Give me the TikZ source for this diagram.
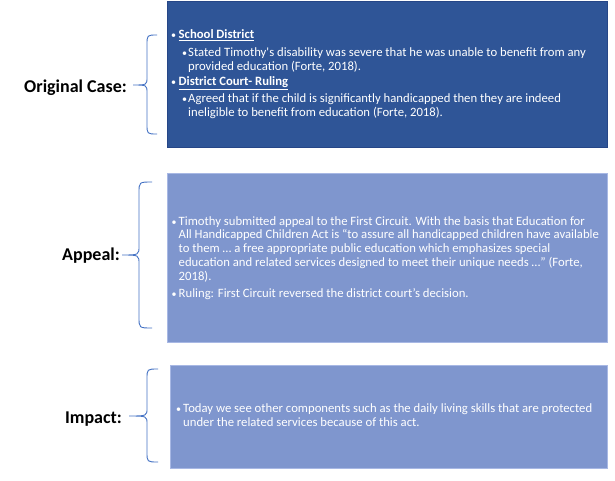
\documentclass[tikz,border=0pt]{standalone}
\usepackage{fontspec}
\setmainfont{Carlito}
\definecolor{darkbox}{RGB}{47,85,151}
\definecolor{darkedge}{RGB}{38,70,135}
\definecolor{lightbox}{RGB}{127,150,206}
\definecolor{lightedge}{RGB}{168,184,228}
\definecolor{bracecol}{RGB}{68,114,196}
\tikzset{
  body/.style={anchor=base west, inner sep=0pt, text=white, font=\fontsize{12.7}{14}\selectfont},
  headtxt/.style={body, font=\fontsize{12.7}{14}\selectfont\bfseries},
  bul/.style={anchor=base west, inner sep=0pt, text=white, font=\fontsize{10}{11}\selectfont},
  lbl/.style={anchor=base east, inner sep=0pt, text=black, font=\fontsize{18}{22}\selectfont\bfseries},
  bracepath/.style={draw=bracecol, line width=0.9pt},
  darkpanel/.style={fill=darkbox, draw=darkedge, line width=0.8pt},
  lightpanel/.style={fill=lightbox, draw=lightedge, line width=0.8pt}
}
\begin{document}
\begin{tikzpicture}[x=1pt,y=-1pt]
\useasboundingbox (0,0) rectangle (615,480);
\fill[white] (0,0) rectangle (615,480);
% panels
\path[darkpanel] (167,1) rectangle (607,147);
\path[lightpanel] (167,173) rectangle (607,342);
\path[lightpanel] (170,365) rectangle (607,468);
% labels
\node[lbl] (lorig) at (127,92) {Original Case:};
\node[lbl] (lappeal) at (120,260) {Appeal:};
\node[lbl] (limpact) at (122,423) {Impact:};
% braces
\path[bracepath] (157,35) .. controls (147,35) .. (147,45) -- (147,77) .. controls (147,85) .. (133,85)
  .. controls (147,85) .. (147,93) -- (147,124) .. controls (147,134) .. (157,134);
\path[bracepath] (152,182) .. controls (139,182) .. (139,193) -- (139,246) .. controls (139,255) .. (122,255)
  .. controls (139,255) .. (139,264) -- (139,317) .. controls (139,328) .. (152,328);
\path[bracepath] (158,369) .. controls (147,369) .. (147,379) -- (147,408) .. controls (147,416) .. (129,416)
  .. controls (147,416) .. (147,424) -- (147,452) .. controls (147,462) .. (158,462);
% box 1 text
\node[bul] (b1) at (171,38.5) {\textbullet};
\node[headtxt] (h1) at (178.5,38.5) {\underline{School District}};
\node[bul] (b1a) at (182,56.5) {\textbullet};
\node[body] (t1a) at (188,56.5) {Stated Timothy\textquotesingle s disability was severe that he was unable to benefit from any};
\node[body] (t1b) at (188,70.5) {provided education (Forte, 2018).};
\node[bul] (b2) at (171,85.5) {\textbullet};
\node[headtxt] (h2) at (178.5,85.5) {\underline{District Court- Ruling}};
\node[bul] (b2a) at (182,102.5) {\textbullet};
\node[body] (t2a) at (188,102.5) {Agreed that if the child is significantly handicapped then they are indeed};
\node[body] (t2b) at (188,116.5) {ineligible to benefit from education (Forte, 2018).};
% box 2 text
\node[bul] (b3) at (171.5,225) {\textbullet};
\node[body] (t3a) at (178.5,225) {Timothy submitted appeal to the First Circuit. With the basis that Education for};
\node[body] (t3b) at (178.5,238.5) {All Handicapped Children Act is “to assure all handicapped children have available};
\node[body] (t3c) at (178.5,252.5) {to them … a free appropriate public education which emphasizes special};
\node[body] (t3d) at (178.5,266.5) {education and related services designed to meet their unique needs …” (Forte,};
\node[body] (t3e) at (178.5,280) {2018).};
\node[bul] (b4) at (171.5,297.5) {\textbullet};
\node[body] (t4a) at (178.5,297.5) {Ruling: First Circuit reversed the district court’s decision.};
% box 3 text
\node[bul] (b5) at (176,412.5) {\textbullet};
\node[body] (t5a) at (183,412.5) {Today we see other components such as the daily living skills that are protected};
\node[body] (t5b) at (183,426.5) {under the related services because of this act.};
\end{tikzpicture}
\end{document}
